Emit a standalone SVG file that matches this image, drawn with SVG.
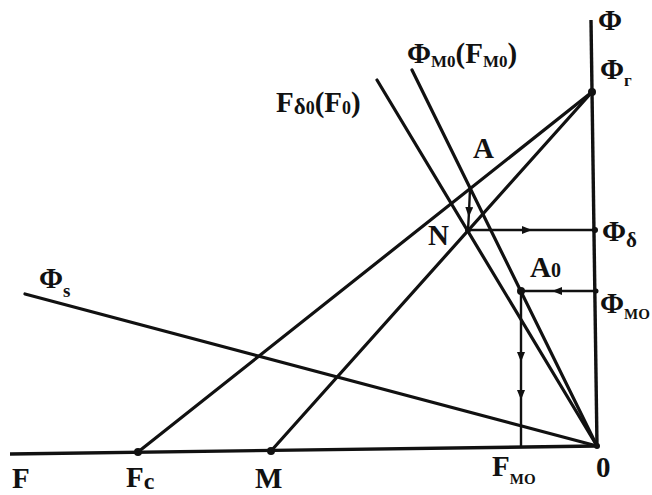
<svg xmlns="http://www.w3.org/2000/svg" width="652" height="495" viewBox="0 0 652 495">
  <defs>
    <style>
      .ln { stroke: #111; stroke-width: 3.2; fill: none; stroke-linecap: round; }
      .ax { stroke: #111; stroke-width: 3.4; fill: none; }
      .thin { stroke: #111; stroke-width: 2.4; fill: none; }
      .pt { fill: #111; }
      text { font-family: "Liberation Serif", "Times New Roman", serif; fill: #111; font-size: 29px; font-weight: bold; }
      .sub { font-size: 17px; }
    </style>
    <marker id="arr" viewBox="0 0 10 8" refX="5" refY="4" markerWidth="10" markerHeight="8" markerUnits="userSpaceOnUse" orient="auto">
      <path d="M0,0 L10,4 L0,8 Z" fill="#111"/>
    </marker>
  </defs>
  <rect width="652" height="495" fill="#fff"/>

  <g id="axes">
    <line class="ax" x1="10" y1="454" x2="597" y2="446"/>
    <line class="ax" x1="591" y1="20" x2="597" y2="446"/>
  </g>

  <g id="characteristics">
    <line id="line-Fc" class="ln" x1="138" y1="452" x2="592" y2="92"/>
    <line id="line-M" class="ln" x1="271" y1="451" x2="592" y2="92"/>
    <line id="line-Phis" class="ln" x1="25" y1="294" x2="597" y2="446"/>
    <line id="line-Fd0" class="ln" x1="377" y1="80" x2="597" y2="446"/>
    <line id="line-PhiM0" class="ln" x1="412" y1="70" x2="597" y2="446"/>
  </g>

  <g id="connectors">
    <path class="thin" d="M470,189 L469,212 L468,230" marker-mid="url(#arr)"/>
    <path class="thin" d="M468,230 L527,230 L595,230" marker-mid="url(#arr)"/>
    <path class="thin" d="M596,291 L557,291 L521,291" marker-mid="url(#arr)"/>
    <path class="thin" d="M521,291 L521,357 L521,395 L521,446" marker-mid="url(#arr)"/>
  </g>

  <g id="points">
    <circle class="pt" cx="592" cy="92" r="4"/>
    <circle class="pt" cx="138" cy="452" r="4"/>
    <circle class="pt" cx="271" cy="451" r="4"/>
    <circle class="pt" cx="468" cy="230" r="3"/>
    <circle class="pt" cx="521" cy="291" r="4"/>
    <circle class="pt" cx="595" cy="230" r="3"/>
    <circle class="pt" cx="596" cy="291" r="2.5"/>
    <circle class="pt" cx="597" cy="446" r="3"/>
  </g>

  <g id="labels">
    <text x="598" y="30">Φ</text>
    <text x="600" y="79">Φ<tspan class="sub" dy="7">г</tspan></text>
    <text x="407" y="63">Φ<tspan class="sub" dy="4">M0</tspan><tspan dy="-4">(F</tspan><tspan class="sub" dy="4">M0</tspan><tspan dy="-4">)</tspan></text>
    <text x="276" y="112">F<tspan style="font-size:23px" dy="2">δ</tspan><tspan class="sub" style="font-size:18px">0</tspan><tspan dy="-2">(F</tspan><tspan class="sub" style="font-size:18px" dy="2">0</tspan><tspan dy="-2">)</tspan></text>
    <text x="473" y="158">A</text>
    <text x="428" y="245">N</text>
    <text x="530" y="277">A<tspan class="sub" style="font-size:20px">0</tspan></text>
    <text x="602" y="241">Φ<tspan style="font-size:21px" dy="6">δ</tspan></text>
    <text x="600" y="313">Φ<tspan class="sub" style="font-size:15px" dy="6">MO</tspan></text>
    <text x="39" y="288">Φ<tspan class="sub" style="font-size:19px" dy="9">s</tspan></text>
    <text x="12" y="488">F</text>
    <text x="126" y="487">F<tspan style="font-size:24px" dy="2">c</tspan></text>
    <text x="255" y="488">M</text>
    <text x="492" y="476">F<tspan class="sub" style="font-size:15px" dy="8">MO</tspan></text>
    <text x="596" y="477">0</text>
  </g>
</svg>
